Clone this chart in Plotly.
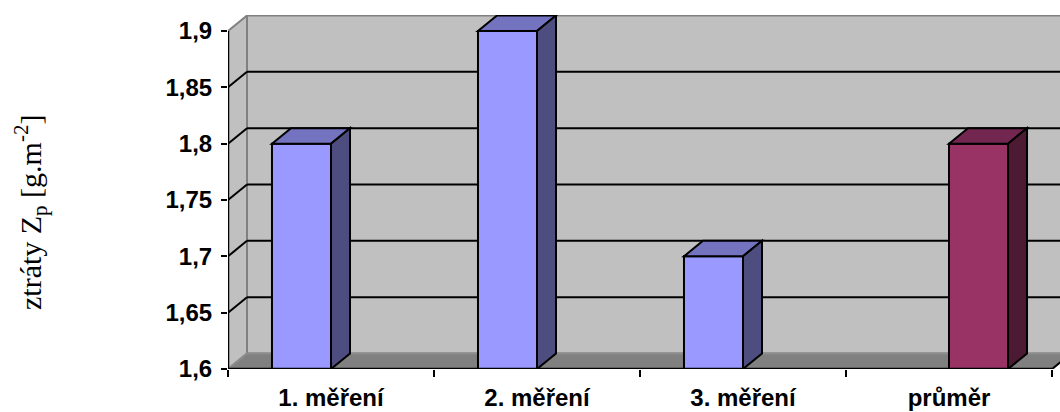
import plotly.graph_objects as go

# Data
categories = ["1. měření", "2. měření", "3. měření", "průměr"]
measurements = [1.8, 1.9, 1.7, None]
average = [None, None, None, 1.8]
y_ticks = [1.6, 1.65, 1.7, 1.75, 1.8, 1.85, 1.9]
y_tick_text = ["1,6", "1,65", "1,7", "1,75", "1,8", "1,85", "1,9"]

# Layout geometry (pixels)
W, H = 1060, 412
ML, MR, MT, MB = 228, 0, 15, 43
CAT_PX = 206            # width of one category on the front plane
Y0, Y1 = 1.6, 1.9
SPAN_PX = 338           # front-plane pixels from 1.6 to 1.9
DEPTH_X_PX, DEPTH_Y_PX = 19, 15.5

plot_w = W - ML - MR
plot_h = H - MT - MB
x_min = -0.5
x_max = x_min + plot_w / CAT_PX
y_per_px = (Y1 - Y0) / SPAN_PX
y_max = Y0 + plot_h * y_per_px

dx = DEPTH_X_PX / CAT_PX
dy = DEPTH_Y_PX * y_per_px
x_front_end = len(categories) - 0.5

BARGAP = 0.427
bar_w = (1 - BARGAP) / 2

wall = "#C0C0C0"
edge = "#808080"

shapes = []

def poly(pts, fill, line_color, line_width=2, layer="below"):
    d = "M " + " L ".join(f"{px},{py}" for px, py in pts) + " Z"
    return dict(type="path", path=d, xref="x", yref="y", fillcolor=fill,
                line=dict(color=line_color, width=line_width), layer=layer)

def seg(x0, y0, x1, y1, color, width=2, layer="below"):
    return dict(type="line", x0=x0, y0=y0, x1=x1, y1=y1, xref="x", yref="y",
                line=dict(color=color, width=width), layer=layer)

# Back wall
shapes.append(poly([(x_min + dx, Y0 + dy), (x_min + dx, Y1 + dy),
                    (x_max + 1, Y1 + dy), (x_max + 1, Y0 + dy)], wall, edge))
# Left wall
shapes.append(poly([(x_min, Y0), (x_min, Y1), (x_min + dx, Y1 + dy),
                    (x_min + dx, Y0 + dy)], wall, edge))
# Floor
shapes.append(poly([(x_min, Y0), (x_front_end, Y0), (x_front_end + dx, Y0 + dy),
                    (x_max + 1, Y0 + dy), (x_min + dx, Y0 + dy)], edge, "#8c8c8c"))
shapes.append(seg(x_front_end, Y0, x_front_end + dx, Y0 + dy, "black"))

# Gridlines on the back wall and the left wall
for v in y_ticks[1:-1]:
    shapes.append(seg(x_min + dx, v + dy, x_max + 1, v + dy, "black"))
    shapes.append(seg(x_min, v, x_min + dx, v + dy, "black"))

# Front axis lines
shapes.append(seg(x_min, Y0, x_min, Y1, "black", 2.5, "above"))
shapes.append(seg(x_min, Y0, x_front_end, Y0, "black", 2.5, "above"))

# Top and side faces of the bars
def faces(values, offset, top_col, side_col):
    for i, v in enumerate(values):
        if v is None:
            continue
        x0 = i + offset - bar_w / 2
        x1 = i + offset + bar_w / 2
        shapes.append(poly([(x0, v), (x1, v), (x1 + dx, v + dy), (x0 + dx, v + dy)],
                           top_col, "black", 2, "above"))
        shapes.append(poly([(x1, Y0), (x1, v), (x1 + dx, v + dy), (x1 + dx, Y0 + dy)],
                           side_col, "black", 2, "above"))

faces(measurements, -bar_w / 2, "#7373C0", "#4D4D80")
faces(average, bar_w / 2, "#732650", "#4D1A33")

xs = list(range(len(categories)))
fig = go.Figure()
fig.add_trace(go.Bar(x=xs, y=measurements, marker=dict(color="#9999FF",
                     line=dict(color="black", width=2)), showlegend=False))
fig.add_trace(go.Bar(x=xs, y=average, marker=dict(color="#993366",
                     line=dict(color="black", width=2)), showlegend=False))

tick_font = dict(family="Liberation Sans, Arial, sans-serif", size=24,
                 color="black", weight="bold")

fig.update_layout(
    width=W, height=H,
    margin=dict(l=ML, r=MR, t=MT, b=MB, pad=0),
    paper_bgcolor="white", plot_bgcolor="white",
    barmode="group", bargap=BARGAP, bargroupgap=0,
    shapes=shapes,
    xaxis=dict(range=[x_min, x_max], tickvals=xs, ticktext=categories,
               ticks="", showgrid=False, zeroline=False, showline=False,
               tickfont=tick_font, ticklabelstandoff=12,
               minor=dict(tickvals=[i - 0.5 for i in range(len(categories) + 1)],
                          ticks="outside", ticklen=7, tickwidth=2, tickcolor="black",
                          showgrid=False)),
    yaxis=dict(range=[Y0, y_max], tickvals=y_ticks, ticktext=y_tick_text,
               ticks="outside", ticklen=6, tickwidth=2, tickcolor="black",
               showgrid=False, zeroline=False, showline=False, tickfont=tick_font,
               ticklabelstandoff=4),
    annotations=[dict(
        text="ztráty Z<sub>p</sub> [g.m<sup>-2</sup>]",
        xref="paper", yref="paper",
        x=(30 - ML) / plot_w, y=(H - MB - 213) / plot_h,
        xanchor="center", yanchor="middle", textangle=-90, showarrow=False,
        font=dict(family="Liberation Serif, Times New Roman, serif", size=30, color="black"))],
)

fig.write_html("out.html")
